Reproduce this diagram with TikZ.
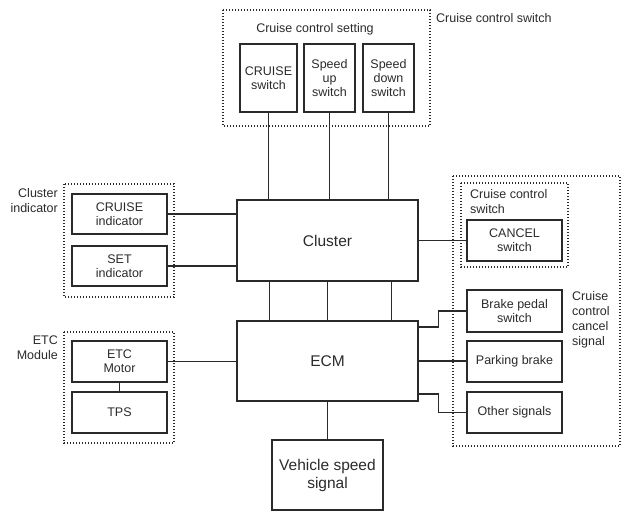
\documentclass[tikz,border=0pt]{standalone}
\usepackage{fontspec}
\setmainfont{Liberation Sans}
\usetikzlibrary{positioning, calc}
\definecolor{ink}{HTML}{2A2A2A}

\begin{document}
\begin{tikzpicture}[x=1pt, y=-1pt,
    box/.style={draw=ink, line width=1.3pt, text=ink, inner sep=0pt, align=center, font=\fontsize{12.5}{14}\selectfont},
    bigbox/.style={box, font=\fontsize{15.5}{18}\selectfont},
    grp/.style={draw=ink, line width=1.2pt, dash pattern=on 1.3pt off 1.7pt},
    lbl/.style={text=ink, inner sep=0pt, font=\fontsize{12.5}{15}\selectfont},
    wire/.style={draw=ink, line width=1.3pt}]
    \useasboundingbox (0,0) rectangle (630,521);

    % Dotted groupings
    \draw[grp] (223,10) rectangle (430,126);
    \draw[grp] (64,184) rectangle (174,297);
    \draw[grp] (64,332) rectangle (174,443);
    \draw[grp] (453,176) rectangle (620,446);
    \draw[grp] (461,183) rectangle (568,267);

    % Group labels
    \node[lbl, anchor=west] at (436,18) {Cruise control switch};
    \node[lbl] at (315,29) {Cruise control setting};
    \node[lbl, anchor=east, align=right] at (58,201) {Cluster\\indicator};
    \node[lbl, anchor=east, align=right] at (58,348) {ETC\\Module};
    \node[lbl, anchor=west, align=left] at (470,202) {Cruise control\\switch};
    \node[lbl, anchor=west, align=left] at (572,320) {Cruise\\control\\cancel\\signal};

    % Central units
    \node[bigbox, minimum width=181pt, minimum height=81pt] (cluster) at (327.5,240.5) {Cluster};
    \node[bigbox, minimum width=181pt, minimum height=80pt] (ecm) at (327.5,361) {ECM};
    \node[bigbox, minimum width=111pt, minimum height=70pt] (vss) at (327.5,475) {Vehicle speed\\signal};

    % Cruise control setting switches
    \node[box, minimum width=57pt, minimum height=68pt] (cruisesw) at (268.5,78) {CRUISE\\switch};
    \node[box, minimum width=51pt, minimum height=68pt] (speedup) at (329.5,78) {Speed\\up\\switch};
    \node[box, minimum width=51pt, minimum height=68pt] (speeddown) at (388.5,78) {Speed\\down\\switch};

    % Left side
    \node[box, minimum width=95pt, minimum height=40pt] (cruiseind) at (119.5,214) {CRUISE\\indicator};
    \node[box, minimum width=95pt, minimum height=40pt] (setind) at (119.5,266) {SET\\indicator};
    \node[box, minimum width=95pt, minimum height=41pt] (etcmotor) at (119.5,361.5) {ETC\\Motor};
    \node[box, minimum width=95pt, minimum height=41pt] (tps) at (119.5,412.5) {TPS};

    % Right side
    \node[box, minimum width=95pt, minimum height=41pt] (cancel) at (514.5,240.5) {CANCEL\\switch};
    \node[box, minimum width=95pt, minimum height=42pt] (brake) at (514.5,311) {Brake pedal\\switch};
    \node[box, minimum width=95pt, minimum height=41pt] (parking) at (514.5,361.5) {Parking brake};
    \node[box, minimum width=95pt, minimum height=41pt] (other) at (514.5,412.5) {Other signals};

    % Connections
    \foreach \sw in {cruisesw, speedup, speeddown}
        \draw[wire] (\sw.south) -- (\sw.south |- cluster.north);
    \foreach \f in {0.18, 0.5, 0.85}
        \draw[wire] ($(cluster.south west)!\f!(cluster.south east)$) -- ($(ecm.north west)!\f!(ecm.north east)$);
    \draw[wire] (cruiseind.east) -- (cruiseind.east -| cluster.west);
    \draw[wire] (setind.east) -- (setind.east -| cluster.west);
    \draw[wire] (etcmotor.east) -- (etcmotor.east -| ecm.west);
    \draw[wire] (etcmotor.south) -- (tps.north);
    \draw[wire] (cluster.east) -- (cluster.east -| cancel.west);
    \draw[wire] ([yshift=34pt]ecm.east) -- ++(20,0) |- (brake.west);
    \draw[wire] (ecm.east) -- (ecm.east -| parking.west);
    \draw[wire] ([yshift=-33pt]ecm.east) -- ++(20,0) |- (other.west);
    \draw[wire] (ecm.south) -- (vss.north);
\end{tikzpicture}
\end{document}
